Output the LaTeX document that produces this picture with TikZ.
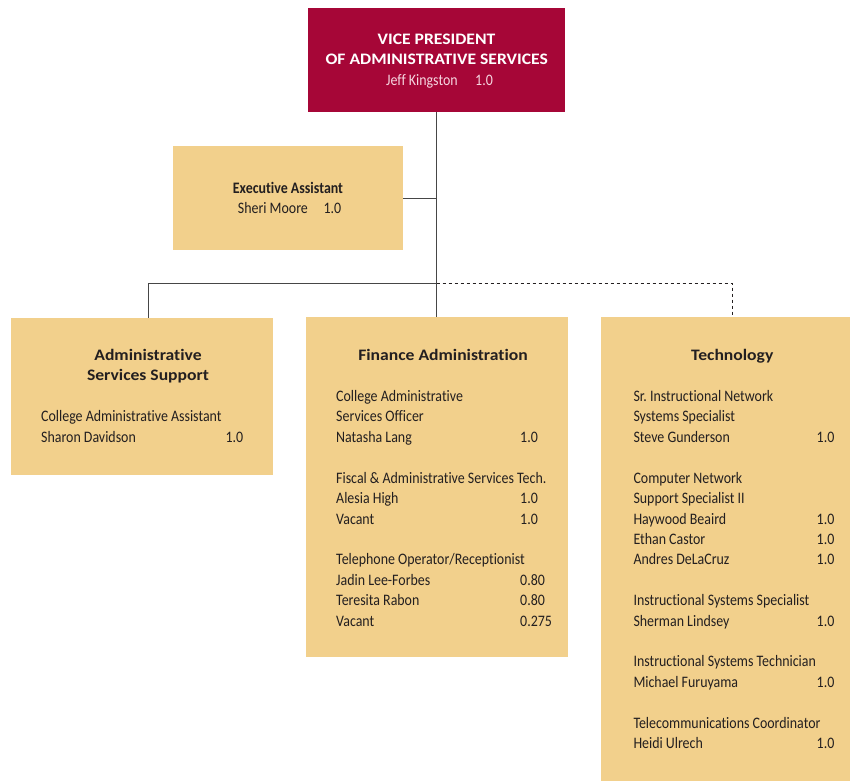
\documentclass[tikz,border=0pt]{standalone}
\usepackage{fontspec}
\setmainfont{Carlito}[Ligatures=NoCommon]
\newfontfamily\bodyface{Carlito}[FakeStretch=0.87, Ligatures=NoCommon]
\newfontfamily\headface{Carlito}[FakeStretch=1.1, Ligatures=NoCommon]
\definecolor{vpred}{RGB}{166,6,55}
\definecolor{paper}{RGB}{242,208,140}
\definecolor{ink}{RGB}{35,31,32}
\definecolor{blush}{RGB}{246,214,224}
\definecolor{wire}{RGB}{70,70,70}
\newcommand\orgbody{\bodyface\fontsize{16}{18}\selectfont}
\newcommand\orghead{\headface\fontsize{16}{18}\selectfont\bfseries}
% baseline of the k-th text row inside the lower boxes
\newcommand\yk[1]{401.5+20.42*(#1)}
\frenchspacing
\begin{document}
\begin{tikzpicture}[x=1pt,y=-1pt,
  unit/.style={draw=none, anchor=north west, inner sep=0, outer sep=0},
  body/.style={anchor=base west, inner sep=0, font=\orgbody, text=ink},
  head/.style={anchor=base, inner sep=0, font=\orghead, text=ink},
  link/.style={draw=wire, line width=0.9pt},
  dashlink/.style={draw=ink, line width=0.8pt, dash pattern=on 3pt off 3pt}
]
\useasboundingbox (0,0) rectangle (850,781);

% ---- boxes
\node[unit, fill=vpred, minimum width=257pt, minimum height=104pt] (vp) at (308,8) {};
\node[unit, fill=paper, minimum width=230pt, minimum height=104pt] (ea) at (173,146) {};
\node[unit, fill=paper, minimum width=262pt, minimum height=157pt] (as) at (11,318) {};
\node[unit, fill=paper, minimum width=262pt, minimum height=340pt] (fin) at (306,317) {};
\node[unit, fill=paper, minimum width=249pt, minimum height=464pt] (tech) at (601,317) {};

% ---- connectors
\coordinate (bus) at (vp.south |- 0,283.5);
\coordinate (ascol) at (148,300);
\coordinate (techcol) at (732.3,300);
\draw[link] (vp.south) -- (vp.south |- fin.north);
\draw[link] (ea.east) -- (ea.east -| vp.south);
\draw[link] (bus) -| (ascol |- as.north);
\draw[dashlink] (bus) -| (techcol |- tech.north);

% ---- vice president
\node[head, text=white] (vp1) at (436.5,45) {VICE PRESIDENT};
\node[head, text=white] (vp2) at (436.7,64.3) {OF ADMINISTRATIVE SERVICES};
\node[body, text=blush] (vpn) at (386,85.7) {Jeff Kingston};
\node[body, text=blush] (vpf) at (475,85.7) {1.0};

% ---- executive assistant
\node[head, font=\orgbody\bfseries] (ea1) at (288,193.3) {Executive Assistant};
\node[body] (ean) at (237.7,213.3) {Sheri Moore};
\node[body] (eaf) at (323.3,213.3) {1.0};

% ---- administrative services support
\node[head] (as1) at (148,360) {Administrative};
\node[head] (as2) at (148,380) {Services Support};
\node[body] (as3) at (41,{\yk{1}}) {College Administrative Assistant};
\node[body] (as4) at (41,{\yk{2}}) {Sharon Davidson};
\node[body] (as4f) at (225.3,{\yk{2}}) {1.0};

% ---- finance administration
\node[head] (fin1) at (443,360) {Finance Administration};
\node[body] (f0) at (336,{\yk{0}}) {College Administrative};
\node[body] (f1) at (336,{\yk{1}}) {Services Officer};
\node[body] (f2) at (336,{\yk{2}}) {Natasha Lang};
\node[body] (f2f) at (520,{\yk{2}}) {1.0};
\node[body] (f4) at (336,{\yk{4}}) {Fiscal \& Administrative Services Tech.};
\node[body] (f5) at (336,{\yk{5}}) {Alesia High};
\node[body] (f5f) at (520,{\yk{5}}) {1.0};
\node[body] (f6) at (336,{\yk{6}}) {Vacant};
\node[body] (f6f) at (520,{\yk{6}}) {1.0};
\node[body] (f8) at (336,{\yk{8}}) {Telephone Operator/Receptionist};
\node[body] (f9) at (336,{\yk{9}}) {Jadin Lee-Forbes};
\node[body] (f9f) at (520,{\yk{9}}) {0.80};
\node[body] (f10) at (336,{\yk{10}}) {Teresita Rabon};
\node[body] (f10f) at (520,{\yk{10}}) {0.80};
\node[body] (f11) at (336,{\yk{11}}) {Vacant};
\node[body] (f11f) at (520,{\yk{11}}) {0.275};

% ---- technology
\node[head] (tech1) at (732.2,360) {Technology};
\node[body] (t0) at (633.3,{\yk{0}}) {Sr.\ Instructional Network};
\node[body] (t1) at (633.3,{\yk{1}}) {Systems Specialist};
\node[body] (t2) at (633.3,{\yk{2}}) {Steve Gunderson};
\node[body] (t2f) at (816.5,{\yk{2}}) {1.0};
\node[body] (t4) at (633.3,{\yk{4}}) {Computer Network};
\node[body] (t5) at (633.3,{\yk{5}}) {Support Specialist II};
\node[body] (t6) at (633.3,{\yk{6}}) {Haywood Beaird};
\node[body] (t6f) at (816.5,{\yk{6}}) {1.0};
\node[body] (t7) at (633.3,{\yk{7}}) {Ethan Castor};
\node[body] (t7f) at (816.5,{\yk{7}}) {1.0};
\node[body] (t8) at (633.3,{\yk{8}}) {Andres DeLaCruz};
\node[body] (t8f) at (816.5,{\yk{8}}) {1.0};
\node[body] (t10) at (633.3,{\yk{10}}) {Instructional Systems Specialist};
\node[body] (t11) at (633.3,{\yk{11}}) {Sherman Lindsey};
\node[body] (t11f) at (816.5,{\yk{11}}) {1.0};
\node[body] (t13) at (633.3,{\yk{13}}) {Instructional Systems Technician};
\node[body] (t14) at (633.3,{\yk{14}}) {Michael Furuyama};
\node[body] (t14f) at (816.5,{\yk{14}}) {1.0};
\node[body] (t16) at (633.3,{\yk{16}}) {Telecommunications Coordinator};
\node[body] (t17) at (633.3,{\yk{17}}) {Heidi Ulrech};
\node[body] (t17f) at (816.5,{\yk{17}}) {1.0};
\end{tikzpicture}
\end{document}
